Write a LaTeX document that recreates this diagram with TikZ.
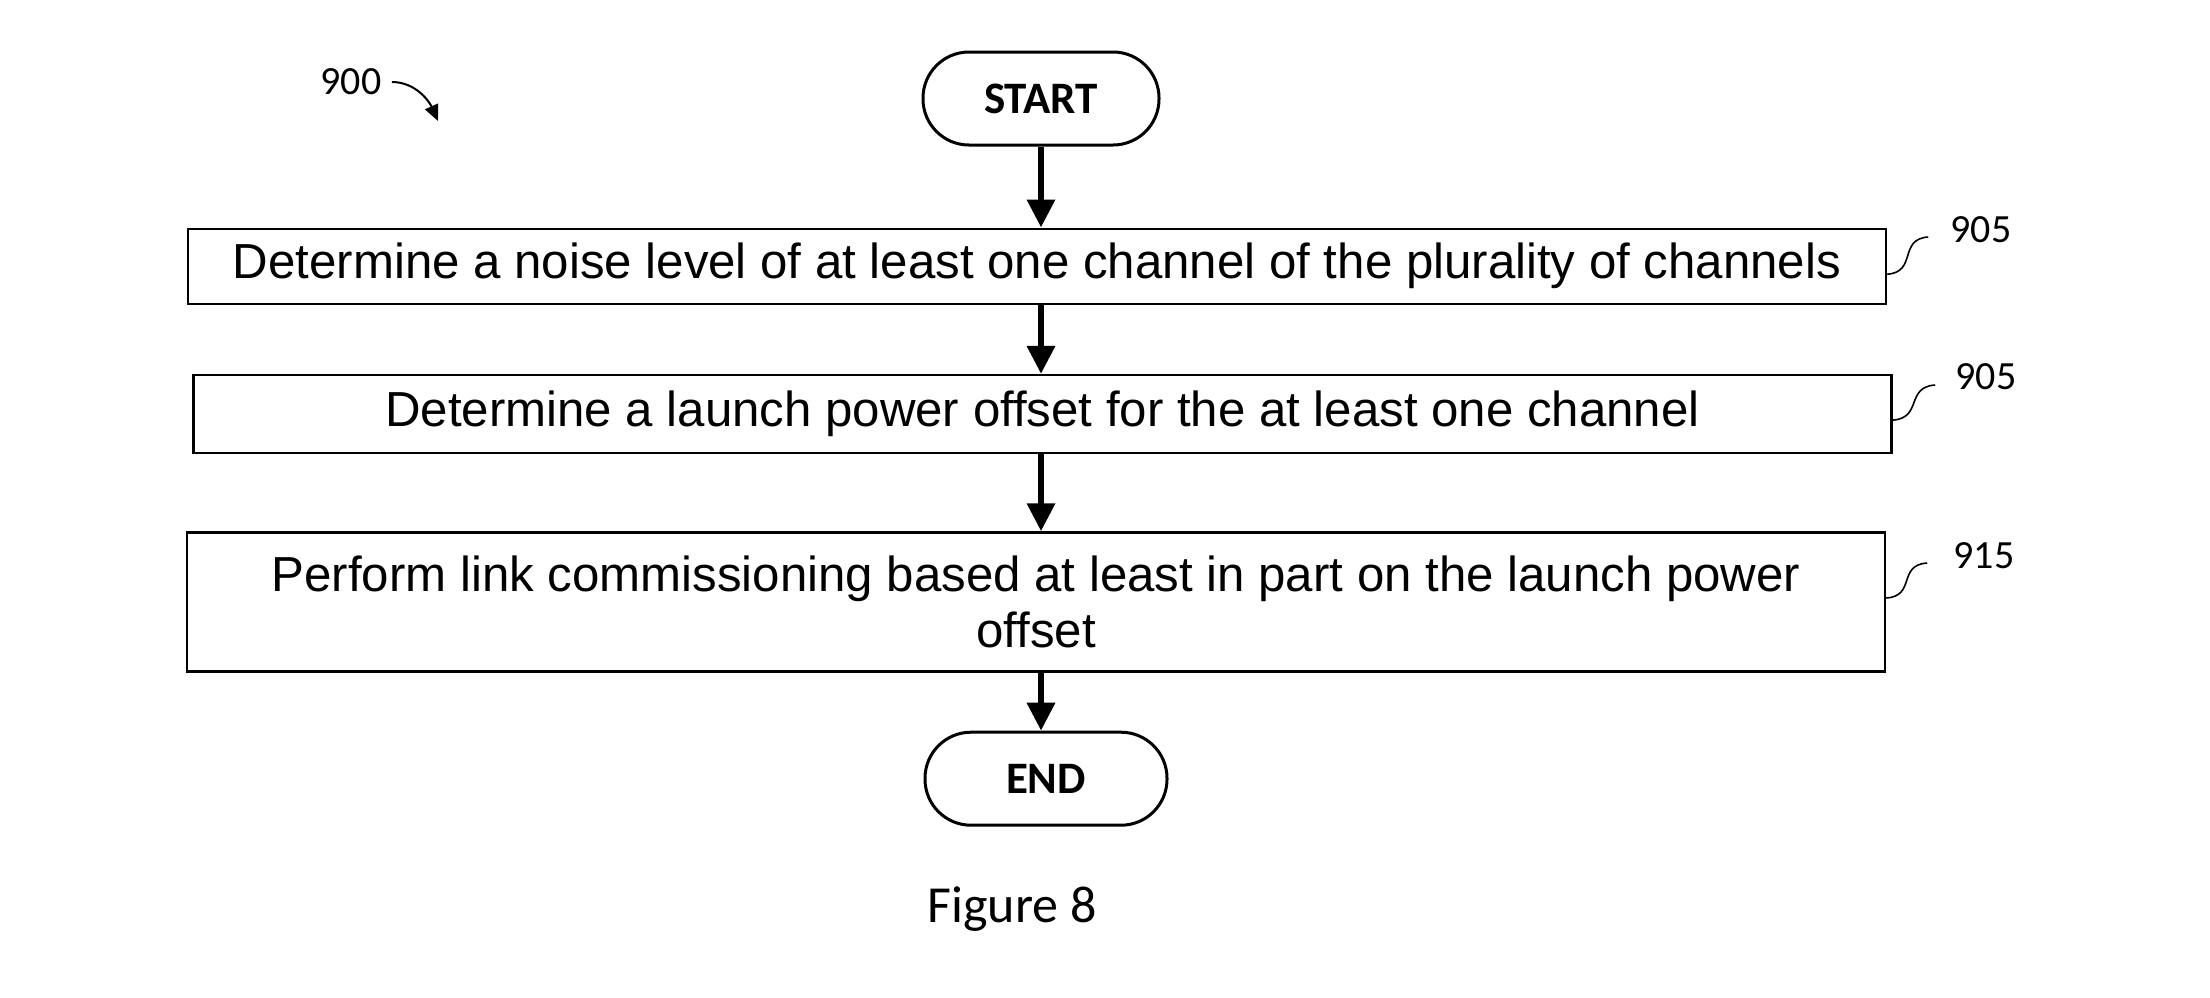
\documentclass[tikz,border=0pt]{standalone}
\usepackage{fontspec}
\setmainfont{Liberation Sans}
\newfontfamily\calibri{Carlito}
\usetikzlibrary{arrows.meta,positioning}

\begin{document}
\begin{tikzpicture}[x=0.5pt,y=-0.5pt,
  term/.style={draw,line width=1.5pt,rounded corners=23pt,minimum width=118pt,minimum height=46.5pt,inner sep=0pt,font=\calibri\bfseries\fontsize{22.5}{26}\selectfont},
  stepbox/.style={draw,line width=1.2pt,minimum width=849pt,minimum height=37.5pt,inner sep=0pt,align=center,font=\fontsize{24.6}{28}\selectfont},
  arr/.style={-{Triangle[length=14pt,width=13.5pt]},line width=3.2pt},
  refnum/.style={font=\calibri\fontsize{20}{24}\selectfont,inner sep=0pt},
  lead/.style={line width=0.8pt}
]
\useasboundingbox (0,0) rectangle (2210,997);

\node[term] (start) at (1041,98.5) {START};
\node[stepbox,below=40.5pt of start,xshift=-2pt] (noise) {Determine a noise level of at least one channel of the plurality of channels};
\node[stepbox,below=34.5pt of noise,xshift=2.75pt,minimum height=39pt] (offset) {Determine a launch power offset for the at least one channel};
\node[stepbox,below=38.5pt of offset,xshift=-3.25pt,minimum height=69.5pt] (commission) {Perform link commissioning based at least in part on the launch power\\offset};
\node[term,below=29pt of commission,xshift=5pt,minimum width=121pt] (end) {END};

\draw[arr] (start.south) -- (start.south |- noise.north);
\draw[arr] (start.south |- noise.south) -- (start.south |- offset.north);
\draw[arr] (start.south |- offset.south) -- (start.south |- commission.north);
\draw[arr] (start.south |- commission.south) -- (start.south |- end.north);

% reference numerals
\node[refnum] (fig900) at (351,82) {900};
\coordinate (fig900tip) at (438,121);
\draw[line width=1pt,-{Triangle[length=8pt,width=7pt]}] (fig900.east) ++(10,0) .. controls +(25,0) and +(-8,-18) .. (fig900tip);

\node[refnum] (ref905a) at (1981,230) {905};
\node[refnum] (ref905b) at (1986,377) {905};
\node[refnum] (ref915) at (1984,556) {915};
\draw[lead] ([yshift=-4pt]noise.east) .. controls +(30,-2) and +(-30,2) .. ([shift={(-11pt,-3.5pt)}]ref905a.west);
\draw[lead] ([yshift=-3pt]offset.east) .. controls +(30,-2) and +(-30,2) .. ([shift={(-10pt,-4pt)}]ref905b.west);
\draw[lead] ([yshift=2pt]commission.east) .. controls +(30,-2) and +(-30,2) .. ([shift={(-13pt,-3.5pt)}]ref915.west);

\node[font=\calibri\fontsize{26}{30}\selectfont,anchor=base,inner sep=0pt] (caption) at (1012,922) {Figure 8};
\end{tikzpicture}
\end{document}
